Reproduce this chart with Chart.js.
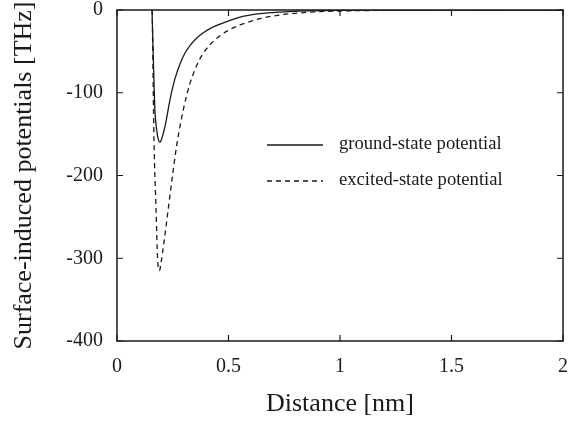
<!DOCTYPE html>
<html>
<head>
<meta charset="utf-8">
<script src="https://cdn.jsdelivr.net/npm/chart.js@4/dist/chart.umd.min.js"></script>
<style>
  html, body { margin: 0; padding: 0; background: #fff; }
  #wrap { width: 568px; height: 424px; }
</style>
</head>
<body>
<div id="wrap"><canvas id="c" width="568" height="424"></canvas></div>
<script>
// Surface-induced potentials vs distance from the surface
const groundX = [0.157, 0.163, 0.170, 0.178, 0.186, 0.193, 0.200, 0.215, 0.238, 0.260, 0.283, 0.305, 0.327, 0.350, 0.372, 0.395, 0.417, 0.440, 0.462, 0.507, 0.552, 0.641, 0.731, 0.820, 1.000, 1.200, 1.500, 2.000];
const groundY = [0, -60, -121, -145, -157, -160, -156, -141, -108, -83, -65, -52, -43, -36, -30.5, -26, -22.5, -19.5, -17, -12.5, -8.5, -4.5, -2.5, -1.4, -0.5, -0.15, 0, 0];

const excitedX = [0.158, 0.166, 0.175, 0.182, 0.187, 0.191, 0.196, 0.210, 0.230, 0.250, 0.268, 0.297, 0.327, 0.372, 0.417, 0.462, 0.507, 0.552, 0.641, 0.731, 0.820, 0.910, 1.000, 1.200, 1.500, 2.000];
const excitedY = [0, -158, -240, -300, -314, -315, -308, -282, -240, -198, -163, -121, -89, -59, -42, -31, -23.5, -18, -10.5, -6, -3.5, -2, -1.2, -0.4, 0, 0];

const xTicks = [0, 0.5, 1, 1.5, 2];
const xTickLabels = ['0', '0.5', '1', '1.5', '2'];
const yTicks = [0, -100, -200, -300, -400];
const yTickLabels = ['0', '-100', '-200', '-300', '-400'];
const seriesLabels = ['ground-state potential', 'excited-state potential'];
const xTitle = 'Distance [nm]';
const yTitle = 'Surface-induced potentials [THz]';

const ink = '#1a1a1a';
const serif = '"Liberation Serif", "Times New Roman", serif';

const toPoints = (xs, ys) => xs.map((x, i) => ({ x: x, y: ys[i] }));

// Box frame, inward ticks on all four sides, and the in-plot legend
const framePlugin = {
  id: 'frame',
  afterDatasetsDraw(chart) {
    const { ctx, chartArea: { left, right, top, bottom }, scales: { x, y } } = chart;
    ctx.save();
    ctx.strokeStyle = ink;
    ctx.lineWidth = 1.5;
    ctx.strokeRect(left, top, right - left, bottom - top);
    ctx.lineWidth = 1.2;
    ctx.beginPath();
    const tl = 6;
    xTicks.forEach(v => {
      const px = x.getPixelForValue(v);
      ctx.moveTo(px, bottom); ctx.lineTo(px, bottom - tl);
      ctx.moveTo(px, top); ctx.lineTo(px, top + tl);
    });
    yTicks.forEach(v => {
      const py = y.getPixelForValue(v);
      ctx.moveTo(left, py); ctx.lineTo(left + tl, py);
      ctx.moveTo(right, py); ctx.lineTo(right - tl, py);
    });
    ctx.stroke();

    // legend
    const rows = [145, 181];
    chart.data.datasets.forEach((ds, i) => {
      const yy = rows[i];
      ctx.beginPath();
      ctx.lineWidth = 1.3;
      ctx.strokeStyle = ink;
      ctx.setLineDash(ds.borderDash || []);
      ctx.moveTo(267, yy);
      ctx.lineTo(323, yy);
      ctx.stroke();
      ctx.setLineDash([]);
      ctx.fillStyle = ink;
      ctx.font = '18.6px ' + serif;
      ctx.textAlign = 'left';
      ctx.textBaseline = 'middle';
      ctx.fillText(ds.label, 339, yy - 1);
    });
    ctx.restore();
  }
};

new Chart(document.getElementById('c'), {
  type: 'line',
  data: {
    datasets: [
      {
        label: seriesLabels[0],
        data: toPoints(groundX, groundY),
        borderColor: ink,
        borderWidth: 1.3,
        pointRadius: 0,
        cubicInterpolationMode: 'monotone',
        fill: false
      },
      {
        label: seriesLabels[1],
        data: toPoints(excitedX, excitedY),
        borderColor: ink,
        borderWidth: 1.3,
        borderDash: [5, 4],
        pointRadius: 0,
        cubicInterpolationMode: 'monotone',
        fill: false
      }
    ]
  },
  options: {
    responsive: false,
    animation: false,
    layout: { padding: { top: 10, right: 5, left: 0, bottom: 0 } },
    plugins: {
      legend: { display: false },
      tooltip: { enabled: false }
    },
    scales: {
      x: {
        type: 'linear',
        min: 0,
        max: 2,
        afterBuildTicks: s => { s.ticks = xTicks.map(v => ({ value: v })); },
        afterFit: s => { s.height = 83; s.paddingLeft = 0; s.paddingRight = 0; },
        grid: { display: false, drawTicks: false },
        border: { display: false },
        ticks: {
          padding: 14,
          color: ink,
          font: { family: serif, size: 20 },
          maxRotation: 0,
          callback: (v, i) => xTickLabels[i]
        },
        title: {
          display: true,
          text: xTitle,
          color: ink,
          font: { family: serif, size: 26 },
          padding: { top: 0, bottom: 4 }
        }
      },
      y: {
        type: 'linear',
        min: -400,
        max: 0,
        afterBuildTicks: s => { s.ticks = yTicks.map(v => ({ value: v })); },
        afterFit: s => { s.width = 117; s.paddingTop = 0; s.paddingBottom = 0; },
        grid: { display: false, drawTicks: false },
        border: { display: false },
        ticks: {
          padding: 14,
          color: ink,
          font: { family: serif, size: 20 },
          callback: (v, i) => yTickLabels[i]
        },
        title: {
          display: true,
          text: yTitle,
          color: ink,
          font: { family: serif, size: 26 },
          padding: { top: 9, bottom: 0 }
        }
      }
    }
  },
  plugins: [framePlugin]
});
</script>
</body>
</html>
